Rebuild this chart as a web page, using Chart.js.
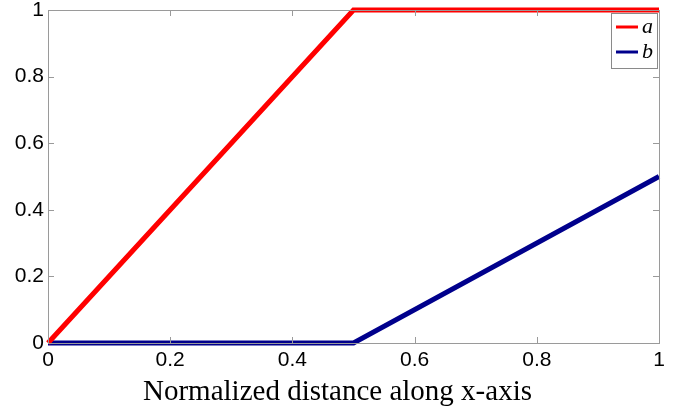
<!DOCTYPE html>
<html>
<head>
<meta charset="utf-8">
<script src="https://cdn.jsdelivr.net/npm/chart.js@4"></script>
<style>
  html, body { margin: 0; padding: 0; background: #fff; }
  #wrap { width: 686px; height: 409px; }
</style>
</head>
<body>
<div id="wrap"><canvas id="c" width="686" height="409"></canvas></div>
<script>
// data
const xA = [0, 0.5, 1];
const yA = [0, 1, 1];
const xB = [0, 0.5, 1];
const yB = [0, 0, 0.5];
const xTicks = [0, 0.2, 0.4, 0.6, 0.8, 1];
const yTicks = [0, 0.2, 0.4, 0.6, 0.8, 1];
const seriesNames = ['a', 'b'];
const seriesColors = ['#ff0000', '#00008c'];
const xTitle = 'Normalized distance along x-axis';

const pts = (xs, ys) => xs.map((x, i) => ({ x, y: ys[i] }));

// box + inward ticks on all four sides, like matlab
const boxPlugin = {
  id: 'box',
  afterDatasetsDraw(chart) {
    const { ctx, chartArea: a, scales } = chart;
    ctx.save();
    ctx.strokeStyle = '#9a9a9a';
    ctx.lineWidth = 1;
    ctx.strokeRect(a.left + 0.5, a.top + 0.5, a.right - a.left, a.bottom - a.top);
    const len = 6;
    ctx.beginPath();
    xTicks.forEach(v => {
      const px = Math.round(scales.x.getPixelForValue(v)) + 0.5;
      ctx.moveTo(px, a.bottom); ctx.lineTo(px, a.bottom - len);
      ctx.moveTo(px, a.top); ctx.lineTo(px, a.top + len);
    });
    yTicks.forEach(v => {
      const py = Math.round(scales.y.getPixelForValue(v)) + 0.5;
      ctx.moveTo(a.left, py); ctx.lineTo(a.left + len, py);
      ctx.moveTo(a.right, py); ctx.lineTo(a.right - len, py);
    });
    ctx.stroke();
    ctx.restore();
  },
  afterDraw(chart) {
    const { ctx, chartArea: a } = chart;
    ctx.save();
    // x axis title, sits a little left of centre in the original
    ctx.font = '29px "Liberation Serif", "Times New Roman", serif';
    ctx.fillStyle = '#000';
    ctx.textAlign = 'center';
    ctx.textBaseline = 'alphabetic';
    ctx.fillText(xTitle, (a.left + a.right) / 2 - 16, a.bottom + 57);

    // legend box in the upper right corner
    const w = 46, h = 55;
    const x0 = a.right - w - 2, y0 = a.top + 3;
    ctx.textAlign = 'left';
    ctx.fillStyle = '#fff';
    ctx.fillRect(x0, y0, w, h);
    ctx.strokeStyle = '#8a8a8a';
    ctx.lineWidth = 1;
    ctx.strokeRect(x0 + 0.5, y0 + 0.5, w, h);
    ctx.font = 'italic 22px "Liberation Serif", "DejaVu Serif", serif';
    ctx.textBaseline = 'middle';
    seriesNames.forEach((name, i) => {
      const yy = y0 + 14 + i * 25;
      ctx.strokeStyle = seriesColors[i];
      ctx.lineWidth = 3;
      ctx.beginPath();
      ctx.moveTo(x0 + 5, yy); ctx.lineTo(x0 + 27, yy);
      ctx.stroke();
      ctx.fillStyle = '#000';
      ctx.fillText(name, x0 + 31, yy);
    });
    ctx.restore();
  }
};

const tickFont = { family: '"Liberation Sans", Arial, sans-serif', size: 21 };

new Chart(document.getElementById('c'), {
  type: 'scatter',
  data: {
    datasets: [
      { label: seriesNames[0], data: pts(xA, yA), showLine: true, borderColor: seriesColors[0], borderWidth: 5, pointRadius: 0, clip: false },
      { label: seriesNames[1], data: pts(xB, yB), showLine: true, borderColor: seriesColors[1], borderWidth: 5, pointRadius: 0, clip: false }
    ]
  },
  options: {
    responsive: false,
    animation: false,
    layout: { padding: { top: 0, right: 27, left: 0, bottom: 0 } },
    plugins: { legend: { display: false }, tooltip: { enabled: false } },
    scales: {
      x: {
        type: 'linear', min: 0, max: 1,
        afterBuildTicks: s => { s.ticks = xTicks.map(v => ({ value: v })); },
        afterFit: s => { s.height = 66; s.paddingLeft = 0; s.paddingRight = 0; },
        grid: { display: false, drawTicks: false },
        border: { display: false },
        ticks: { color: '#000', padding: 5, maxRotation: 0, font: tickFont, callback: v => String(v) }
      },
      y: {
        type: 'linear', min: 0, max: 1,
        afterBuildTicks: s => { s.ticks = yTicks.map(v => ({ value: v })); },
        afterFit: s => { s.width = 48; s.paddingTop = 10; s.paddingBottom = 0; },
        grid: { display: false, drawTicks: false },
        border: { display: false },
        ticks: { color: '#000', padding: 4, font: tickFont, callback: v => String(v) }
      }
    }
  },
  plugins: [boxPlugin]
});
</script>
</body>
</html>
